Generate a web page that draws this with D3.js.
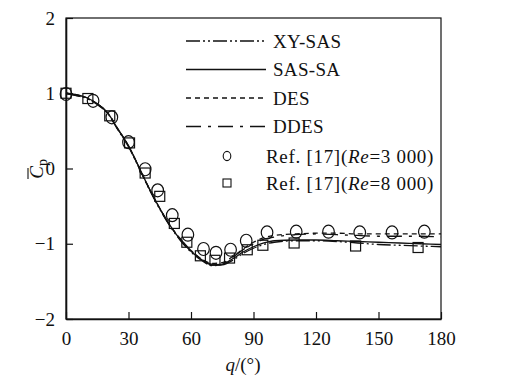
<!DOCTYPE html>
<html>
<head>
<meta charset="utf-8">
<script src="https://cdn.jsdelivr.net/npm/d3@7"></script>
<style>
  body { margin: 0; background: #fff; }
  svg text { font-family: 'Liberation Serif', 'Times New Roman', serif; fill: #111; }
</style>
</head>
<body>
<div id="chart"></div>
<script>
// angle (deg) grid for the computed curves
var angles = [0, 5, 10, 15, 20, 25, 30, 35, 40, 45, 50, 55, 60, 65, 70, 75, 80, 85, 90, 95, 100, 110, 120, 130, 140, 150, 160, 170, 180];

var xySas = [1.00, 0.97, 0.93, 0.85, 0.73, 0.51, 0.29, 0.01, -0.28, -0.54, -0.77, -0.96, -1.11, -1.22, -1.29, -1.28, -1.22, -1.13, -1.06, -1.01, -0.98, -0.96, -0.96, -0.97, -0.99, -1.01, -1.02, -1.03, -1.04];
var sasSa = [1.00, 0.98, 0.94, 0.86, 0.74, 0.52, 0.30, 0.02, -0.27, -0.53, -0.76, -0.95, -1.10, -1.21, -1.28, -1.27, -1.20, -1.11, -1.04, -0.99, -0.96, -0.95, -0.95, -0.96, -0.97, -0.98, -0.99, -1.00, -1.01];
var des = [1.00, 0.98, 0.94, 0.86, 0.74, 0.52, 0.30, 0.02, -0.27, -0.53, -0.76, -0.94, -1.09, -1.20, -1.26, -1.25, -1.17, -1.07, -0.98, -0.92, -0.89, -0.87, -0.86, -0.86, -0.87, -0.87, -0.87, -0.87, -0.87];
var ddes = [1.00, 0.97, 0.93, 0.86, 0.74, 0.52, 0.30, 0.02, -0.27, -0.53, -0.76, -0.94, -1.09, -1.20, -1.27, -1.26, -1.18, -1.08, -1.00, -0.94, -0.91, -0.88, -0.87, -0.88, -0.89, -0.90, -0.90, -0.90, -0.91];

// Ref. [17] experiments
var re3000Angle = [0, 13, 22, 30, 38, 44, 51, 58.5, 66, 72, 79, 86.5, 96.5, 110.5, 126, 141, 156.5, 172];
var re3000Cp = [0.99, 0.90, 0.68, 0.35, -0.01, -0.29, -0.62, -0.88, -1.07, -1.12, -1.08, -0.96, -0.85, -0.84, -0.84, -0.85, -0.85, -0.84];
var re8000Angle = [0, 10.5, 21, 30.5, 38, 45, 52, 58, 64.5, 71.5, 78.5, 87, 94.5, 109.5, 139, 169];
var re8000Cp = [1.00, 0.93, 0.70, 0.34, -0.06, -0.37, -0.73, -0.98, -1.16, -1.22, -1.19, -1.08, -1.02, -0.99, -1.03, -1.05];

var xTicks = [0, 30, 60, 90, 120, 150, 180];
var yTicks = [-2, -1, 0, 1, 2];

var series = [
    { name: 'XY-SAS', values: xySas, dash: '14,3,2,3,2,3' },
    { name: 'SAS-SA', values: sasSa, dash: null },
    { name: 'DES', values: des, dash: '5,4' },
    { name: 'DDES', values: ddes, dash: '15,7,3,7' }
];

var W = 506, H = 389;
var margin = { top: 18, right: 65, bottom: 70, left: 66 },
    width = W - margin.left - margin.right,
    height = H - margin.top - margin.bottom;

var svg = d3.select('#chart')
    .append('svg')
    .attr('width', W)
    .attr('height', H);

var g = svg.append('g')
    .attr('transform', 'translate(' + margin.left + ',' + margin.top + ')');

var x = d3.scaleLinear().domain([0, 180]).range([0, width]);
var y = d3.scaleLinear().domain([-2, 2]).range([height, 0]);

// frame
g.append('rect')
    .attr('width', width)
    .attr('height', height)
    .attr('fill', 'none')
    .attr('stroke', '#111')
    .attr('stroke-width', 1.2);

var xAxis = g.append('g')
    .attr('transform', 'translate(0,' + height + ')')
    .call(d3.axisBottom(x).tickValues(xTicks).tickSizeInner(-7).tickSizeOuter(0).tickPadding(13));
var yAxis = g.append('g')
    .call(d3.axisLeft(y).tickValues(yTicks).tickSizeInner(-7).tickSizeOuter(0).tickPadding(11)
        .tickFormat(function(d) { return d < 0 ? '\u2212' + Math.abs(d) : d; }));

[xAxis, yAxis].forEach(function(a) {
    a.attr('font-family', null).attr('font-size', null);
    a.select('.domain').attr('stroke', '#111').attr('stroke-width', 1.6);
    a.selectAll('.tick line').attr('stroke', '#111').attr('stroke-width', 1.2);
    a.selectAll('.tick text')
        .attr('font-size', 19)
        .attr('fill', '#111');
});

// curves
var line = d3.line()
    .x(function(d) { return x(d[0]); })
    .y(function(d) { return y(d[1]); })
    .curve(d3.curveMonotoneX);

series.forEach(function(s) {
    g.append('path')
        .datum(angles.map(function(a, i) { return [a, s.values[i]]; }))
        .attr('d', line)
        .attr('fill', 'none')
        .attr('stroke', '#111')
        .attr('stroke-width', 1.3)
        .attr('stroke-dasharray', s.dash);
});

// experiment markers
g.selectAll('.sq')
    .data(re8000Angle.map(function(a, i) { return [a, re8000Cp[i]]; }))
    .enter()
    .append('rect')
    .attr('x', function(d) { return x(d[0]) - 5; })
    .attr('y', function(d) { return y(d[1]) - 5; })
    .attr('width', 10)
    .attr('height', 10)
    .attr('fill', 'none')
    .attr('stroke', '#111')
    .attr('stroke-width', 1.2);

g.selectAll('.circ')
    .data(re3000Angle.map(function(a, i) { return [a, re3000Cp[i]]; }))
    .enter()
    .append('ellipse')
    .attr('cx', function(d) { return x(d[0]); })
    .attr('cy', function(d) { return y(d[1]); })
    .attr('rx', 5.8)
    .attr('ry', 6.5)
    .attr('fill', 'none')
    .attr('stroke', '#111')
    .attr('stroke-width', 1.2);

// legend
var legend = svg.append('g');
series.forEach(function(s, i) {
    var ly = 41 + i * 28.5;
    legend.append('line')
        .attr('x1', 186).attr('x2', 266)
        .attr('y1', ly).attr('y2', ly)
        .attr('stroke', '#111')
        .attr('stroke-width', 1.3)
        .attr('stroke-dasharray', s.dash);
    legend.append('text')
        .attr('x', 273)
        .attr('y', ly)
        .attr('dy', '0.35em')
        .attr('font-size', 19)
        .attr('letter-spacing', 0.3)
        .text(s.name);
});

legend.append('ellipse')
    .attr('cx', 227).attr('cy', 156)
    .attr('rx', 3.8).attr('ry', 4.6)
    .attr('fill', 'none').attr('stroke', '#111').attr('stroke-width', 1.1);
legend.append('rect')
    .attr('x', 223).attr('y', 179)
    .attr('width', 8).attr('height', 8)
    .attr('fill', 'none').attr('stroke', '#111').attr('stroke-width', 1.1);

[['3 000', 156], ['8 000', 183]].forEach(function(r) {
    var t = legend.append('text')
        .attr('x', 266)
        .attr('y', r[1])
        .attr('dy', '0.35em')
        .attr('font-size', 19)
        .attr('letter-spacing', 0.7);
    t.append('tspan').text('Ref. [17](');
    t.append('tspan').attr('font-style', 'italic').text('Re');
    t.append('tspan').text('=' + r[0] + ')');
});

// axis titles
var xl = svg.append('text')
    .attr('x', 243)
    .attr('y', 371)
    .attr('text-anchor', 'middle')
    .attr('font-size', 19);
xl.append('tspan').attr('font-style', 'italic').text('q');
xl.append('tspan').text('/(\u00b0)');

var yl = svg.append('g')
    .attr('transform', 'translate(43,167) rotate(-90)');
yl.append('text')
    .attr('x', 1)
    .attr('text-anchor', 'end')
    .attr('font-size', 19)
    .attr('font-style', 'italic')
    .text('C');
yl.append('text')
    .attr('x', 1)
    .attr('y', 4)
    .attr('font-size', 14)
    .text('p');
yl.append('line')
    .attr('x1', -12).attr('x2', -1)
    .attr('y1', -15).attr('y2', -15)
    .attr('stroke', '#111')
    .attr('stroke-width', 1.1);
</script>
</body>
</html>
